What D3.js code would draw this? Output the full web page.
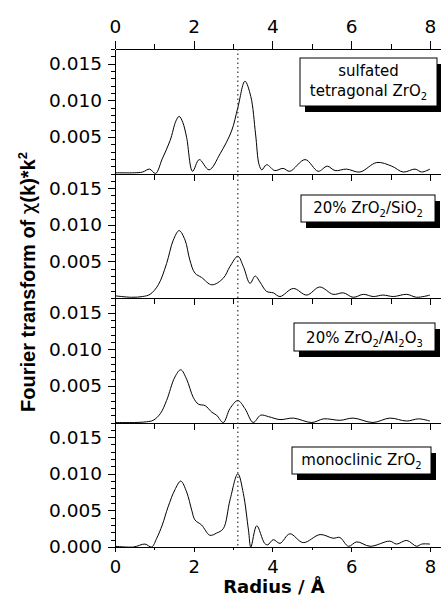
<!DOCTYPE html>
<html>
<head>
<meta charset="utf-8">
<script src="https://cdn.jsdelivr.net/npm/d3@7"></script>
<style>
body { margin: 0; background: #fff; }
text { font-family: 'DejaVu Sans', sans-serif; fill: #000; }
.axis path, .axis line { stroke: #000; stroke-width: 1; shape-rendering: crispEdges; }
</style>
</head>
<body>
<script>
// samples, top to bottom; "_" marks a one-char subscript
const sampleNames = ['sulfated|tetragonal ZrO_2', '20% ZrO_2/SiO_2', '20% ZrO_2/Al_2O_3', 'monoclinic ZrO_2']

// [radius (Å), FT magnitude]
const sulfated = [
    [0.0, 0.0001], [0.5, 0.0001], [0.7, 0.0002], [0.88, 0.0006], [1.03, 0.0000], [1.2, 0.0020],
    [1.4, 0.0045], [1.55, 0.0072], [1.63, 0.0078], [1.72, 0.0070], [1.82, 0.0049], [1.97, 0.0003],
    [2.14, 0.0019], [2.39, 0.0005], [2.67, 0.0027], [2.96, 0.0058], [3.12, 0.0090], [3.30, 0.0126],
    [3.45, 0.0105], [3.57, 0.0054], [3.66, 0.0012], [3.73, 0.0005], [3.85, 0.0012], [4.06, 0.0004],
    [4.27, 0.0007], [4.44, 0.0003], [4.83, 0.0019], [5.16, 0.0003], [5.39, 0.0010], [5.59, 0.0004],
    [5.88, 0.0006], [6.22, 0.0002], [6.65, 0.0015], [7.03, 0.0010], [7.32, 0.0002], [7.62, 0.0006],
    [7.79, 0.0002], [8.0, 0.0006]
]
const zrSiO2 = [
    [0.0, 0.0003], [0.42, 0.0001], [0.7, 0.0002], [0.89, 0.0005], [1.1, 0.0018], [1.31, 0.0047],
    [1.48, 0.0079], [1.63, 0.0092], [1.78, 0.0079], [1.9, 0.0052], [2.03, 0.0034], [2.2, 0.0028],
    [2.46, 0.0018], [2.75, 0.0027], [2.92, 0.0043], [3.12, 0.0057], [3.26, 0.0043], [3.43, 0.0020],
    [3.56, 0.0030], [3.68, 0.0022], [3.85, 0.0009], [4.02, 0.0007], [4.19, 0.0002], [4.53, 0.0013],
    [4.87, 0.0004], [5.2, 0.0015], [5.54, 0.0005], [5.8, 0.0007], [6.05, 0.0001], [6.31, 0.0005],
    [6.56, 0.0002], [6.81, 0.0004], [7.07, 0.0002], [7.41, 0.0005], [7.66, 0.0001], [8.0, 0.0004]
]
const zrAl2O3 = [
    [0.0, 0.0000], [0.5, 0.0000], [0.8, 0.0001], [0.97, 0.0003], [1.15, 0.0012], [1.31, 0.0030],
    [1.52, 0.0062], [1.67, 0.0072], [1.82, 0.0059], [1.99, 0.0034], [2.12, 0.0025], [2.29, 0.0023],
    [2.46, 0.0014], [2.58, 0.0010], [2.75, 0.0000], [2.92, 0.0019], [3.12, 0.0030], [3.3, 0.0019],
    [3.51, 0.0000], [3.7, 0.0010], [3.9, 0.0008], [4.19, 0.0004], [4.53, 0.0006], [5.0, 0.0000],
    [5.3, 0.0005], [5.72, 0.0003], [6.05, 0.0006], [6.55, 0.0000], [6.98, 0.0006], [7.41, 0.0002],
    [7.71, 0.0005], [8.0, 0.0002]
]
const monoclinic = [
    [0.0, 0.0001], [0.47, 0.0000], [0.76, 0.0004], [0.93, 0.0000], [1.06, 0.0012], [1.2, 0.0030],
    [1.35, 0.0055], [1.52, 0.0078], [1.67, 0.0090], [1.82, 0.0075], [1.95, 0.0050], [2.03, 0.0037],
    [2.2, 0.0030], [2.41, 0.0016], [2.58, 0.0019], [2.75, 0.0025], [2.92, 0.0064], [3.12, 0.0100],
    [3.26, 0.0073], [3.39, 0.0023], [3.45, 0.0000], [3.6, 0.0029], [3.8, 0.0005], [3.88, 0.0003],
    [4.02, 0.0010], [4.19, 0.0005], [4.44, 0.0018], [4.78, 0.0006], [5.21, 0.0017], [5.54, 0.0012],
    [5.71, 0.0013], [5.93, 0.0001], [6.14, 0.0007], [6.48, 0.0001], [6.98, 0.0008], [7.15, 0.0004],
    [7.41, 0.0009], [7.66, 0.0001], [7.79, 0.0004], [8.0, 0.0004]
]
const series = [sulfated, zrSiO2, zrAl2O3, monoclinic]

const xTicks = [0, 2, 4, 6, 8]
const xMinor = [1, 3, 5, 7]
const yTicks = [0, 0.005, 0.010, 0.015]
const yMax = 0.017
const markerR = 3.12   // dotted reference line

const xLabel = 'Radius / Å'

function main() {
    let W = 441, H = 599
    let left = 115, top = 49, panelH = 124.5

    let svg = d3.select('body').append('svg')
        .attr('width', W).attr('height', H)

    let xScale = d3.scaleLinear().domain([0, 8.28]).range([left, W])

    // legend box layout per panel: x, y, w, h, baselines
    let boxes = [
        {x: 300, y: 58, w: 137, h: 48, base: [76, 96]},
        {x: 301, y: 195, w: 134, h: 27, base: [213]},
        {x: 294, y: 323, w: 141, h: 28, base: [343]},
        {x: 292, y: 447, w: 139, h: 27, base: [465]}
    ]

    let line = d3.line().curve(d3.curveCatmullRom.alpha(0.5))

    series.forEach((data, i) => {
        let pTop = top + i * panelH
        let pBot = pTop + panelH
        let yScale = d3.scaleLinear().domain([0, yMax]).range([pBot, pTop])

        // bottom edge of each panel, ticks pointing down
        let last = i == series.length - 1
        let bx = svg.append('g').attr('class', 'axis')
            .attr('transform', 'translate(0,' + pBot + ')')
        bx.call(d3.axisBottom(xScale).tickValues(xTicks).tickSize(last ? 5 : 7).tickSizeOuter(0)
            .tickPadding(8).tickFormat(last ? d3.format('d') : ''))
        bx.append('g').call(d3.axisBottom(xScale).tickValues(xMinor).tickSize(last ? 3 : 6).tickFormat(''))
            .select('.domain').remove()
        bx.selectAll('text').style('font-size', '18px')

        // left axis
        let ly = svg.append('g').attr('class', 'axis')
            .attr('transform', 'translate(' + left + ',0)')
        ly.call(d3.axisLeft(yScale).tickValues(last ? yTicks : yTicks.slice(1)).tickSize(7)
            .tickSizeOuter(0).tickPadding(6).tickFormat(d3.format('.3f')))
        ly.append('g').call(d3.axisLeft(yScale).tickValues(d3.range(1, 18).map(d => d / 1000))
            .tickSize(4).tickFormat('')).select('.domain').remove()
        ly.selectAll('text').style('font-size', '18.5px')

        // curve
        svg.append('path')
            .datum(data)
            .attr('fill', 'none')
            .attr('stroke', '#000')
            .attr('stroke-width', 1)
            .attr('d', line.x(d => xScale(d[0])).y(d => yScale(d[1])))

        // legend box with shadow
        let b = boxes[i]
        svg.append('rect').attr('x', b.x + 5).attr('y', b.y + 6).attr('width', b.w).attr('height', b.h)
            .attr('fill', '#000')
        svg.append('rect').attr('x', b.x).attr('y', b.y).attr('width', b.w).attr('height', b.h)
            .attr('fill', '#fff').attr('stroke', '#000').attr('stroke-width', 1)

        sampleNames[i].split('|').forEach((txt, j) => {
            let t = svg.append('text')
                .attr('x', b.x + b.w / 2).attr('y', b.base[j])
                .attr('text-anchor', 'middle')
                .style('font-size', '15px')
            let parts = txt.split(/(_.)/).filter(p => p.length)
            let sub = false
            parts.forEach(p => {
                if (p[0] == '_') {
                    t.append('tspan').attr('dy', sub ? 0 : 4).style('font-size', '10px').text(p[1])
                    sub = true
                } else {
                    t.append('tspan').attr('dy', sub ? -4 : 0).text(p)
                    sub = false
                }
            })
        })
    })

    // top axis
    let tx = svg.append('g').attr('class', 'axis').attr('transform', 'translate(0,' + top + ')')
    tx.call(d3.axisTop(xScale).tickValues(xTicks).tickSize(8).tickSizeOuter(0).tickPadding(8)
        .tickFormat(d3.format('d')))
    tx.append('g').call(d3.axisTop(xScale).tickValues(xMinor).tickSize(5).tickFormat(''))
        .select('.domain').remove()
    tx.selectAll('text').style('font-size', '18.5px')

    // dotted reference line
    svg.append('line')
        .attr('x1', xScale(markerR)).attr('x2', xScale(markerR))
        .attr('y1', top).attr('y2', top + 4 * panelH)
        .attr('stroke', '#333').attr('stroke-width', 1.2)
        .attr('stroke-dasharray', '1.5,3')

    // axis titles
    svg.append('text')
        .attr('x', 274).attr('y', 593)
        .attr('text-anchor', 'middle')
        .style('font-size', '18px').style('font-weight', 'bold')
        .text(xLabel)

    let yl = svg.append('text')
        .attr('transform', 'translate(35,282) rotate(-90)')
        .attr('text-anchor', 'middle')
        .style('font-family', "'Liberation Sans', Arial, sans-serif")
        .style('font-size', '20px').style('font-weight', 'bold')
    yl.append('tspan').text('Fourier transform of ')
    yl.append('tspan').style('font-weight', 'normal').style('font-family', "'DejaVu Sans', sans-serif").text('χ')
    yl.append('tspan').text('(k)*k')
    yl.append('tspan').attr('dy', -8).style('font-size', '13px').text('2')
}

main()
</script>
</body>
</html>
